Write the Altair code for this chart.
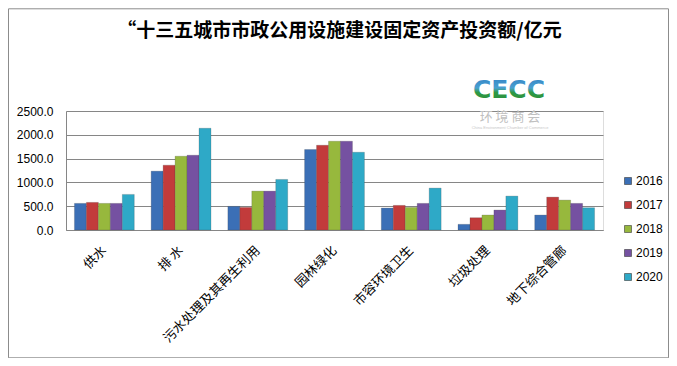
import altair as alt
import pandas as pd

categories = ["供水", "排 水", "污水处理及其再生利用", "园林绿化", "市容环境卫生", "垃圾处理", "地下综合管廊"]
years = ["2016", "2017", "2018", "2019", "2020"]
v2016 = [559, 1236, 496, 1690, 461, 119, 314]
v2017 = [580, 1362, 475, 1781, 517, 258, 691]
v2018 = [559, 1550, 817, 1865, 475, 314, 628]
v2019 = [559, 1571, 817, 1865, 559, 419, 559]
v2020 = [748, 2137, 1062, 1634, 880, 712, 468]
colors = ["#3b6fb6", "#c23b3b", "#97b83d", "#7551a1", "#2ea9c7"]
y_ticks = [0, 500, 1000, 1500, 2000, 2500]
title_text = "“十三五城市市政公用设施建设固定资产投资额/亿元"

series = [v2016, v2017, v2018, v2019, v2020]
rows = []
for yr, vals in zip(years, series):
    for c, v in zip(categories, vals):
        rows.append({"类别": c, "年份": yr, "值": v})
df = pd.DataFrame(rows)

W, H = 537, 119

bars = alt.Chart(df).mark_bar(strokeWidth=0.6, stroke="#3a3a3a", strokeOpacity=0.35).encode(
    x=alt.X("类别:N", sort=categories,
            scale=alt.Scale(paddingInner=0.22, paddingOuter=0.11),
            axis=alt.Axis(title=None, labelAngle=-45, labelAlign="right", labelBaseline="middle",
                          labelFont="Noto Sans CJK SC", labelFontSize=13, labelColor="#000000",
                          labelPadding=18, ticks=False, domainColor="#868686", labelLimit=300)),
    xOffset=alt.XOffset("年份:N", sort=years),
    y=alt.Y("值:Q", scale=alt.Scale(domain=[0, 2500], nice=False),
            axis=alt.Axis(title=None, values=y_ticks, format=".1f", ticks=False,
                          labelFont="Liberation Sans", labelFontSize=12, labelColor="#000000",
                          labelPadding=13, gridColor="#868686", gridWidth=1,
                          domainColor="#868686")),
    color=alt.Color("年份:N", sort=years, scale=alt.Scale(domain=years, range=colors),
                    legend=alt.Legend(title=None, orient="none", legendX=556, legendY=64,
                                      symbolType="square", symbolSize=49, symbolStrokeWidth=0.6,
                                      labelFont="Liberation Sans", labelFontSize=12,
                                      labelColor="#000000", rowPadding=12, padding=0,
                                      labelOffset=2)),
)

border = alt.Chart(pd.DataFrame({"a": [0]})).mark_rect(
    fill=None, stroke="#8c8c8c", strokeWidth=1, clip=False
).encode(x=alt.value(-57.5), x2=alt.value(602.5), y=alt.value(-102.2), y2=alt.value(246.8))

logo_fill = alt.Gradient(
    gradient="linear", x1=0, y1=0, x2=0, y2=1,
    stops=[alt.GradientStop(color="#2f7fc4", offset=0),
           alt.GradientStop(color="#4aa0d0", offset=0.45),
           alt.GradientStop(color="#2f9a45", offset=0.6),
           alt.GradientStop(color="#2a8a3c", offset=1)],
)
logo1 = alt.Chart(pd.DataFrame({"t": ["CECC"]})).mark_text(
    font="DejaVu Sans", fontSize=25, fontWeight="bold", fill=logo_fill, baseline="middle"
).encode(text="t:N", x=alt.value(443), y=alt.value(-21))
logo2 = alt.Chart(pd.DataFrame({"t": ["环 境 商 会"]})).mark_text(
    font="Noto Sans CJK SC", fontSize=13, color="#c0c0c0", baseline="middle"
).encode(text="t:N", x=alt.value(444), y=alt.value(6))
logo3 = alt.Chart(pd.DataFrame({"t": ["China Environment Chamber of Commerce"]})).mark_text(
    font="Liberation Sans", fontSize=4, color="#c8c8c8", baseline="middle"
).encode(text="t:N", x=alt.value(444), y=alt.value(17))

chart = alt.layer(border, bars, logo1, logo2, logo3).properties(
    width=W, height=H,
    title=alt.TitleParams(title_text, font="Noto Sans CJK SC", fontSize=19, fontWeight="bold",
                          color="#000000", anchor="middle", frame="group", offset=-33, dx=5),
    autosize=alt.AutoSizeParams(type="none"),
    padding={"left": 58, "top": 103, "right": 66, "bottom": 128},
).configure_view(stroke=None).configure(background="#ffffff")

chart.save("out.html", embed_options={"renderer": "svg", "actions": False})
